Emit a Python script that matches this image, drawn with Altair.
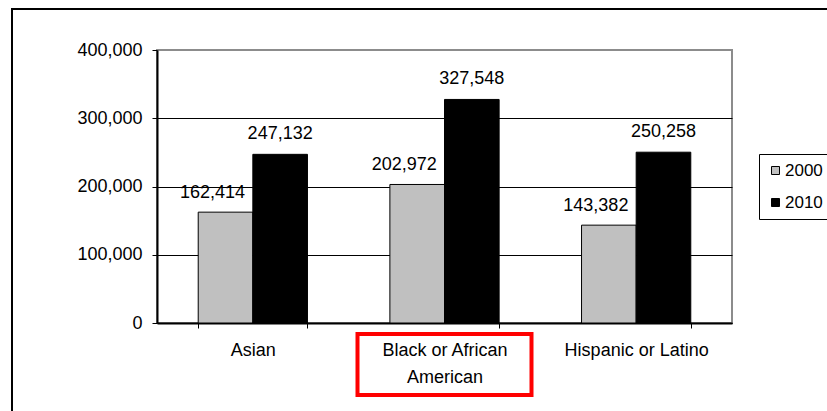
import altair as alt
import pandas as pd

categories = ["Asian", "Black or African American", "Hispanic or Latino"]
years = ["2000", "2010"]
values_2000 = [162414, 202972, 143382]
values_2010 = [247132, 327548, 250258]
y_ticks = [0, 100000, 200000, 300000, 400000]
highlighted = "Black or African American"
highlighted_lines = ["Black or African", "American"]

rows = []
for c, v0, v1 in zip(categories, values_2000, values_2010):
    rows.append({"group": c, "year": years[0], "value": v0})
    rows.append({"group": c, "year": years[1], "value": v1})
df = pd.DataFrame(rows)

FONT = "Liberation Sans"

label_expr = "datum.value == '%s' ? ['%s', '%s'] : datum.value" % (
    highlighted, highlighted_lines[0], highlighted_lines[1])

x_enc = alt.X(
    "group:N", sort=categories,
    scale=alt.Scale(paddingInner=0.43, paddingOuter=0.215),
    axis=alt.Axis(title=None, labelAngle=0, tickBand="extent", ticks=True,
                  tickSize=5, tickColor="black", tickWidth=1,
                  domainColor="black", domainWidth=2,
                  labelFontSize=18, labelColor="black", labelPadding=13,
                  labelLineHeight=27, labelExpr=label_expr, grid=False,
                  labelLimit=0),
)
y_enc = alt.Y(
    "value:Q",
    scale=alt.Scale(domain=[0, 400000], nice=False),
    axis=alt.Axis(title=None, values=y_ticks, format=",.0f", tickSize=5,
                  tickColor="black", tickWidth=1, domainColor="black",
                  domainWidth=2, labelFontSize=18, labelColor="black",
                  labelPadding=10, gridWidth=1,
                  gridColor={"condition": {"test": "datum.value === 400000",
                                           "value": "#8c8c8c"},
                             "value": "black"}),
)
xoff = alt.XOffset("year:N", sort=years,
                   scale=alt.Scale(paddingInner=0, paddingOuter=0))

bars = alt.Chart(df).mark_bar(stroke="black", strokeWidth=1).encode(
    x=x_enc, xOffset=xoff, y=y_enc,
    color=alt.Color(
        "year:N",
        scale=alt.Scale(domain=years, range=["#C0C0C0", "#000000"]),
        legend=alt.Legend(title=None, orient="none", legendX=602, legendY=104,
                          symbolType="square", symbolSize=64,
                          symbolStrokeColor="black", symbolStrokeWidth=1,
                          labelFontSize=17, labelColor="black",
                          strokeColor="black", fillColor="white", padding=8,
                          rowPadding=14, labelOffset=1),
    ),
)

lab2000 = alt.Chart(df).transform_filter(
    "datum.year == '%s'" % years[0]
).mark_text(fontSize=18, dx=-13, dy=-14, baseline="alphabetic",
            color="black").encode(
    x=x_enc, xOffset=xoff, y=y_enc, text=alt.Text("value:Q", format=","))

lab2010 = alt.Chart(df).transform_filter(
    "datum.year == '%s'" % years[1]
).mark_text(fontSize=18, dx=0, dy=-15, baseline="alphabetic",
            color="black").encode(
    x=x_enc, xOffset=xoff, y=y_enc, text=alt.Text("value:Q", format=","))

box = alt.Chart(pd.DataFrame({"group": [highlighted]})).mark_bar(
    filled=False, fillOpacity=0, stroke="#ff0000", strokeWidth=4, width=174
).encode(x=x_enc, y=alt.value(284), y2=alt.value(345))

border = alt.Chart(pd.DataFrame({"k": [0]})).mark_rect(
    fillOpacity=0, stroke="black", strokeWidth=2
).encode(x=alt.value(-145), x2=alt.value(720), y=alt.value(-41), y2=alt.value(400))

chart = alt.layer(border, bars, lab2000, lab2010, box).properties(
    width=575, height=273,
    padding={"left": 157, "top": 50, "right": 95, "bottom": 88},
    autosize=alt.AutoSizeParams(type="none"),
).configure(font=FONT).configure_view(stroke="#8c8c8c", strokeWidth=2)

chart.save("out.html", embed_options={"renderer": "svg", "actions": False})
